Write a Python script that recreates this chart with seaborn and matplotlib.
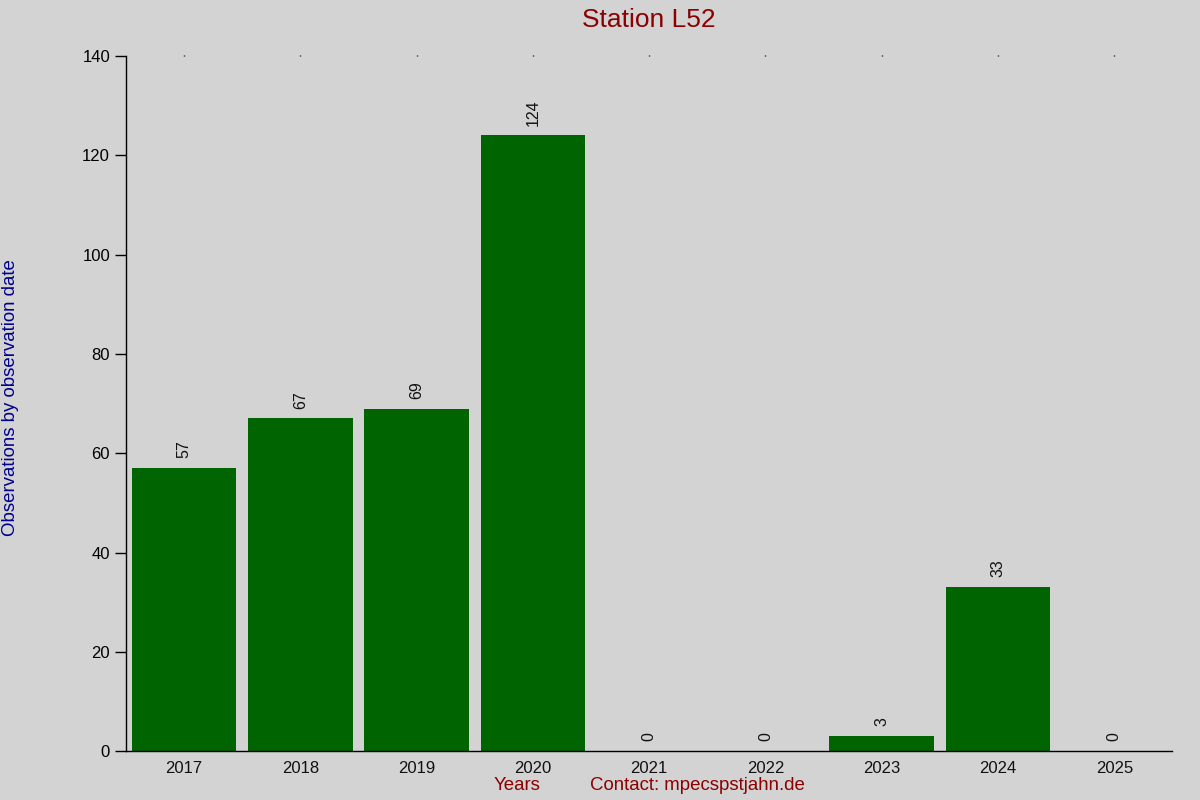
import matplotlib
matplotlib.use("Agg")
import matplotlib.pyplot as plt
import seaborn as sns
import pandas as pd

years = ["2017", "2018", "2019", "2020", "2021", "2022", "2023", "2024", "2025"]
counts = [57, 67, 69, 124, 0, 0, 3, 33, 0]

df = pd.DataFrame({"year": years, "count": counts})

sns.set_style("ticks")
plt.rcParams["font.family"] = ["Liberation Sans", "DejaVu Sans"]

bg = "#d3d3d3"
fig = plt.figure(figsize=(12, 8), dpi=100, facecolor=bg)
ax = fig.add_axes([0.105, 0.061, 0.872, 0.869])
ax.set_facecolor(bg)

sns.barplot(data=df, x="year", y="count", color="#006400", saturation=1,
            width=0.9, linewidth=0, edgecolor="none", ax=ax)

for i, v in enumerate(counts):
    ax.text(i, v + 2, str(v), rotation=90, ha="center", va="bottom",
            fontsize=11.5, color="#111111")

ax.set_xlim(-0.5, 8.5)
ax.set_ylim(0, 140)
ax.set_yticks(range(0, 141, 20))
ax.tick_params(axis="y", direction="out", length=8, width=1, labelsize=12,
               colors="black")
ax.tick_params(axis="x", bottom=False, top=True, length=1, width=1,
               color="black", labelcolor="#111111", labelsize=12, pad=6)
for s in ["top", "right"]:
    ax.spines[s].set_visible(False)
for s in ["left", "bottom"]:
    ax.spines[s].set_color("black")
    ax.spines[s].set_linewidth(1)

ax.set_xlabel("")
ax.set_ylabel("")
fig.text(0.541, 0.975, "Station L52", ha="center", va="center",
         fontsize=19, color="#8b0000")
fig.text(0.009, 0.503, "Observations by observation date", rotation=90,
         ha="center", va="center", fontsize=13.4, color="#00008b")
fig.text(0.431, 0.018, "Years", ha="center", va="center",
         fontsize=13.4, color="#8b0000")
fig.text(0.581, 0.018, "Contact: mpecspstjahn.de", ha="center", va="center",
         fontsize=13.4, color="#8b0000")

fig.savefig("out.png", dpi=100, facecolor=bg)
